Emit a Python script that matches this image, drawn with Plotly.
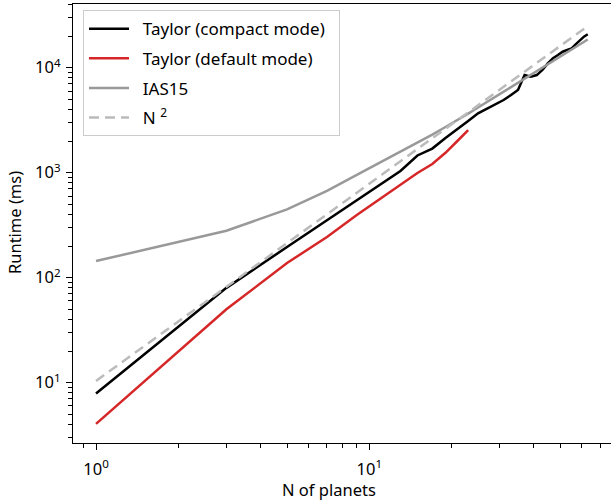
import plotly.graph_objects as go

# ---- data ----
n_compact = [1, 3, 5, 7, 9, 11, 13, 15, 17, 19, 21, 23, 25, 27, 29, 31,
             33, 35, 37, 39, 41, 43, 45, 47, 49, 51, 53, 55, 57, 59, 61, 63]
t_compact = [7.9, 80, 196, 353, 547, 776, 1038, 1459, 1698, 2138, 2577, 3105,
             3680, 4100, 4510, 4920, 5500, 6140, 8510, 8200, 8510, 9510, 11000,
             12300, 13200, 14200, 14750, 15300, 16800, 18400, 19740, 20800]

n_default = [1, 3, 5, 7, 9, 11, 13, 15, 17, 19, 21, 23]
t_default = [4.05, 50, 138, 244, 395, 567, 769, 993, 1211, 1546, 2004, 2541]

n_ias = n_compact
t_ias = [144, 280, 447, 673, 955, 1259, 1585, 1936, 2307, 2725, 3155, 3655,
         4180, 4735, 5318, 5918, 6546, 7197, 7875, 8557, 9284, 10000, 10750,
         11530, 12310, 13120, 13950, 14800, 15660, 16550, 17450, 18560]

n_ref = [1, 63]
t_ref = [10.4, 24900]

x_major = [1, 10]
x_major_text = ["10<sup>0</sup>", "10<sup>1</sup>"]
x_minor = [0.9, 2, 3, 4, 5, 6, 7, 8, 9, 20, 30, 40, 50, 60, 70]
y_major = [10, 100, 1000, 10000]
y_major_text = ["10<sup>1</sup>", "10<sup>2</sup>", "10<sup>3</sup>", "10<sup>4</sup>"]
y_minor = [3, 4, 5, 6, 7, 8, 9, 20, 30, 40, 50, 60, 70, 80, 90,
           200, 300, 400, 500, 600, 700, 800, 900,
           2000, 3000, 4000, 5000, 6000, 7000, 8000, 9000, 20000, 30000, 40000]

FONT = "Noto Sans"
FS = 16.5
LFS = 17
PAD = "\u00a0\u00a0"

fig = go.Figure()
fig.add_trace(go.Scatter(x=n_compact, y=t_compact, mode="lines",
                         name=PAD + "Taylor (compact mode)" + PAD, legendgroup="a",
                         line=dict(color="#000000", width=2.5)))
fig.add_trace(go.Scatter(x=n_default, y=t_default, mode="lines",
                         name=PAD + "Taylor (default mode)", legendgroup="b",
                         line=dict(color="#d62728", width=2.5)))
fig.add_trace(go.Scatter(x=n_ias, y=t_ias, mode="lines",
                         name=PAD + "IAS15", legendgroup="c",
                         line=dict(color="#999999", width=2.5)))
fig.add_trace(go.Scatter(x=n_ref, y=t_ref, mode="lines",
                         name=PAD + "N <sup>2</sup>", legendgroup="d",
                         line=dict(color="#bbbbbb", width=2.5, dash="10px,6px")))

axis_common = dict(
    type="log", showgrid=False, zeroline=False, showline=True,
    linecolor="#000000", linewidth=1.2, ticks="outside", ticklen=6,
    tickwidth=1.1, tickcolor="#000000",
    tickfont=dict(family=FONT, size=FS, color="#000000"),
)

fig.update_layout(
    width=611, height=501,
    margin=dict(l=73, r=0, t=4, b=58, pad=0),
    paper_bgcolor="white", plot_bgcolor="white",
    font=dict(family=FONT, size=FS, color="#000000"),
    xaxis=dict(axis_common, range=[-0.0842, 1.8844], mirror=True,
               tickmode="array", tickvals=x_major, ticktext=x_major_text,
               ticklabelstandoff=5,
               minor=dict(tickmode="array", tickvals=x_minor, ticks="outside",
                          ticklen=3.5, tickwidth=1, tickcolor="#000000")),
    yaxis=dict(axis_common, range=[0.4257, 4.6067], mirror=False,
               tickmode="array", tickvals=y_major, ticktext=y_major_text,
               ticklabelstandoff=2,
               minor=dict(tickmode="array", tickvals=y_minor, ticks="outside",
                          ticklen=3.5, tickwidth=1, tickcolor="#000000")),
    legend=dict(x=0.0186, y=0.986, xanchor="left", yanchor="top",
                bgcolor="rgba(255,255,255,0.8)", bordercolor="#cccccc",
                borderwidth=1, tracegroupgap=4.5, traceorder="grouped",
                itemwidth=40,
                font=dict(family=FONT, size=LFS, color="#000000")),
    showlegend=True,
    annotations=[
        dict(text="Runtime (ms)", xref="paper", yref="paper",
             x=(15 - 73) / 538, y=(443 - 223) / 439, textangle=-90,
             showarrow=False, xanchor="center", yanchor="middle",
             font=dict(family=FONT, size=FS, color="#000000")),
        dict(text="N of planets", xref="paper", yref="paper",
             x=(329 - 73) / 538, y=(443 - 489) / 439,
             showarrow=False, xanchor="center", yanchor="middle",
             font=dict(family=FONT, size=FS, color="#000000")),
    ],
)

fig.write_html(
    "out.html",
    config={"displayModeBar": False},
    post_script="document.body.style.margin='0';document.body.style.overflow='hidden';",
)
